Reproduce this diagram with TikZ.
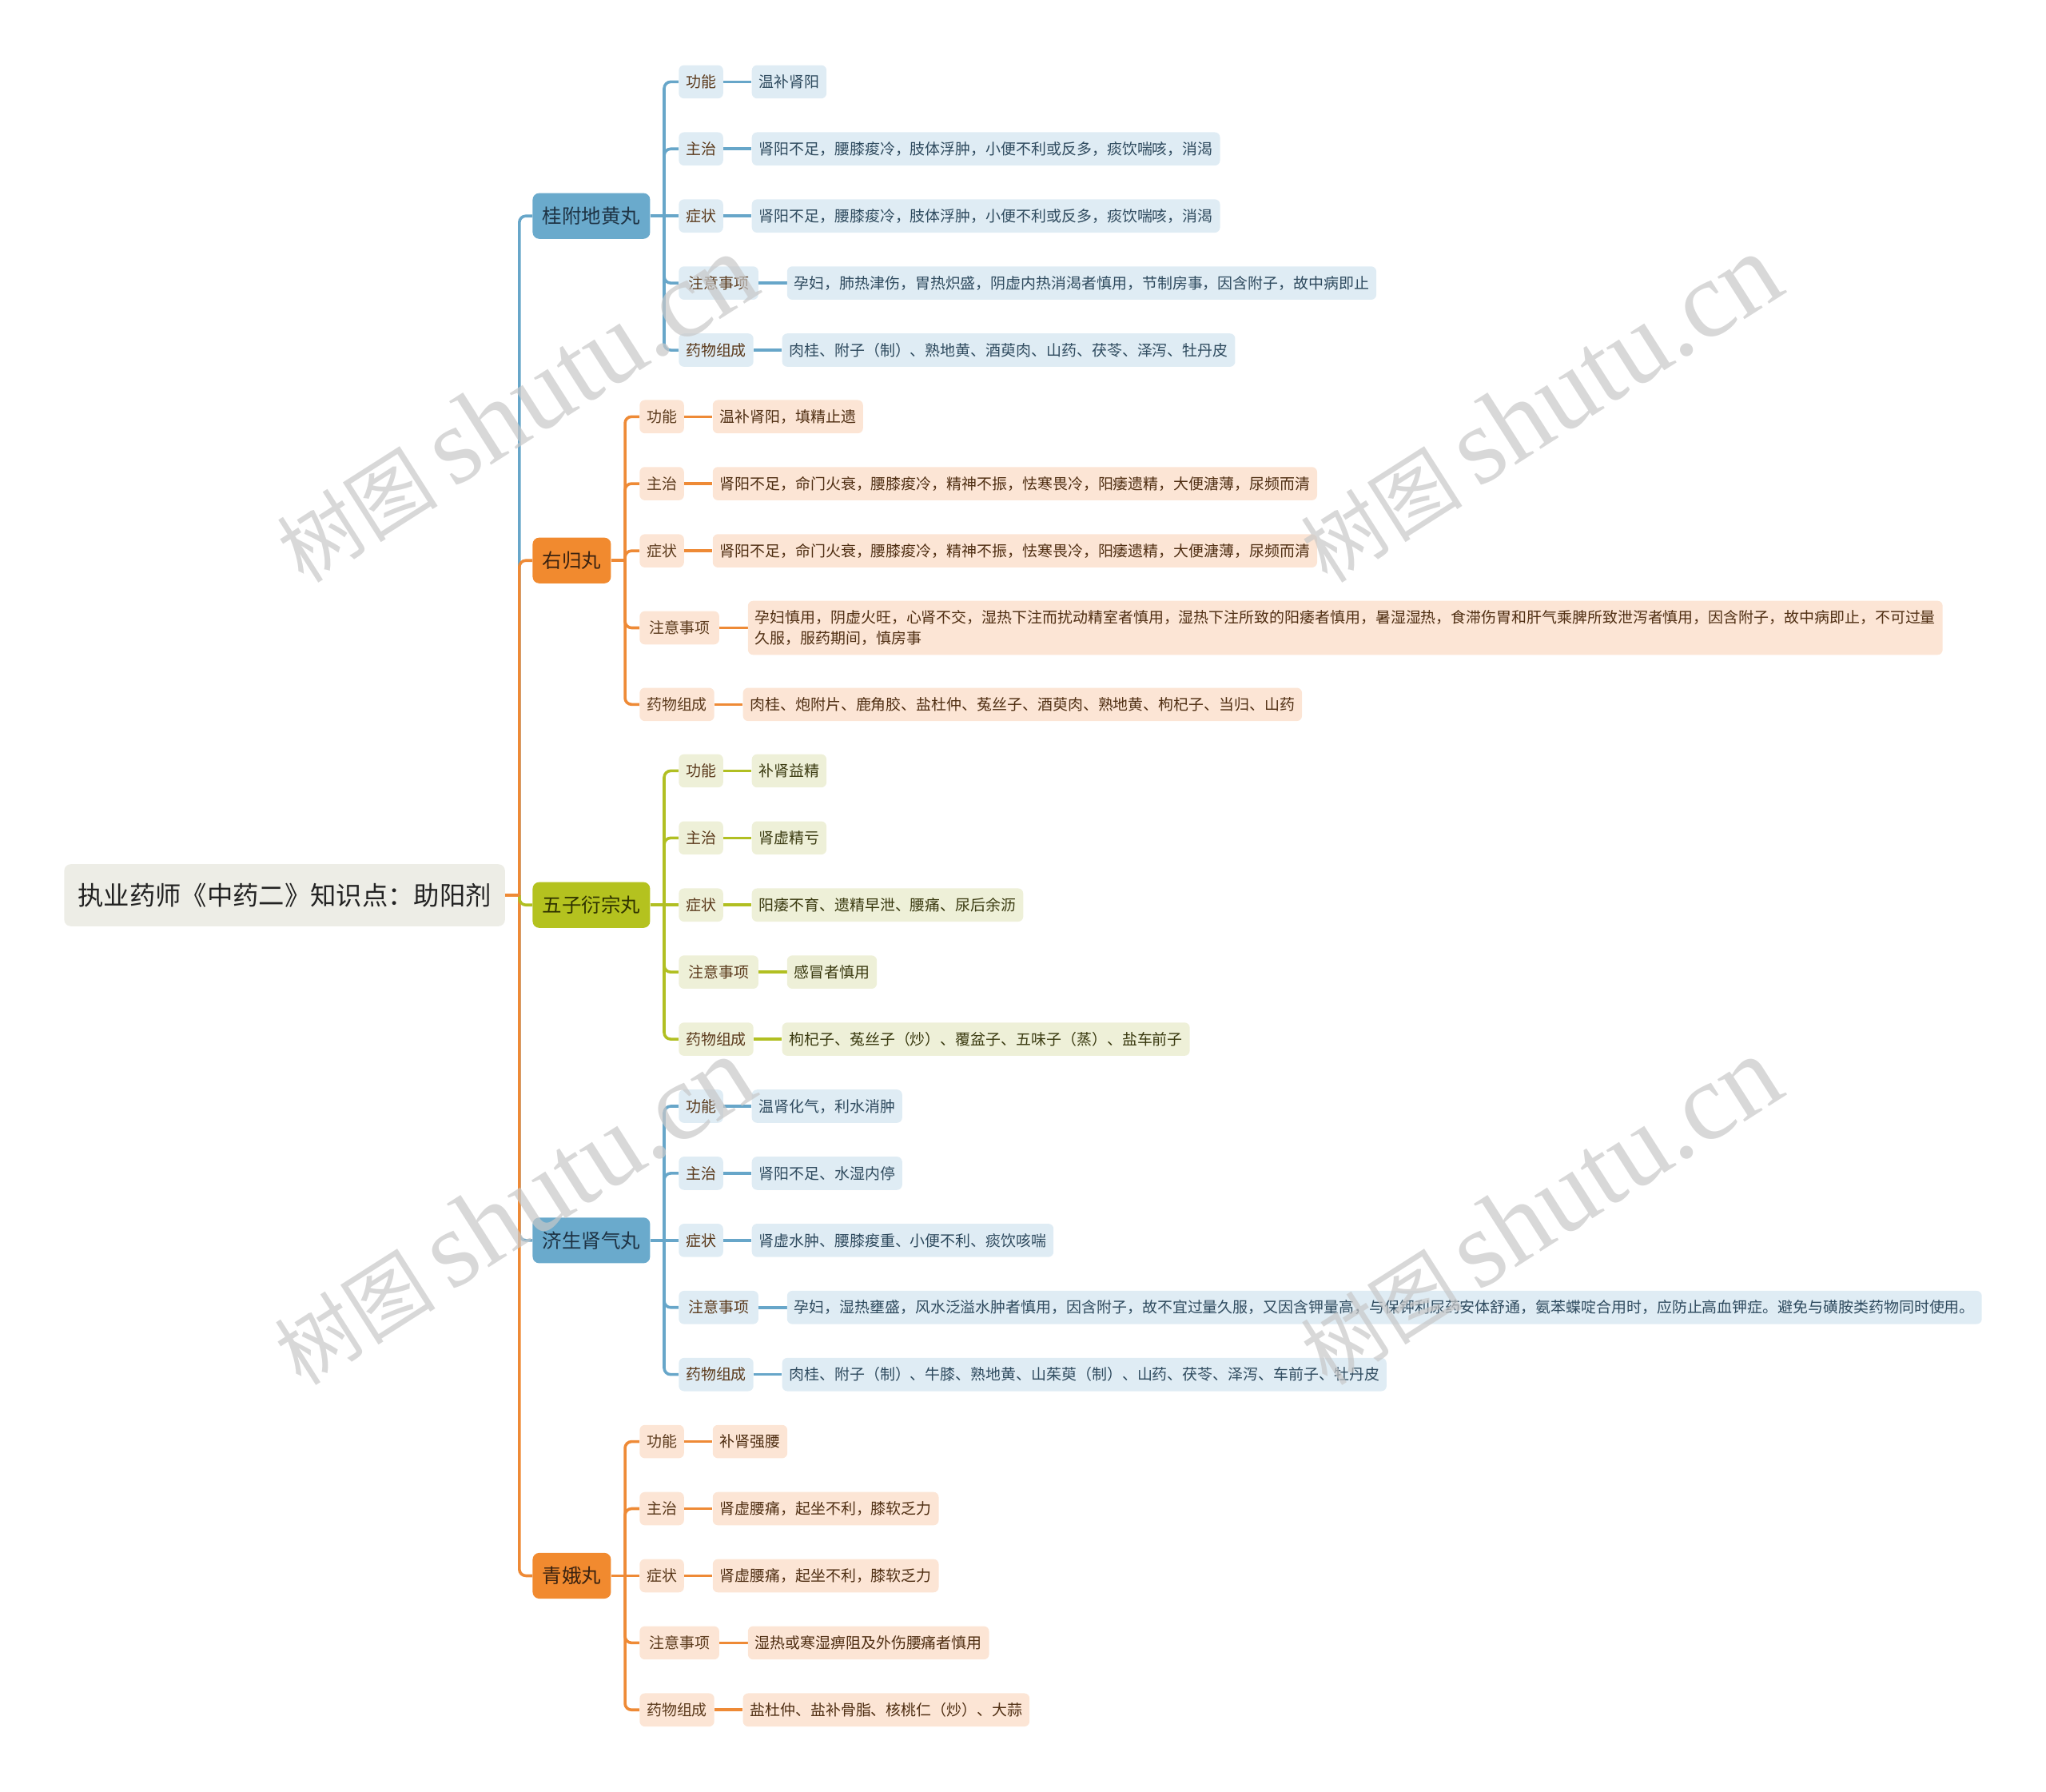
\documentclass[tikz,border=0pt]{standalone}
\usepackage{fontspec}
\setmainfont{Noto Sans CJK SC}
\newfontfamily\wmlat{Liberation Serif}
\usetikzlibrary{positioning,backgrounds}

\definecolor{bB}{HTML}{6AAACC}
\definecolor{bL}{HTML}{DFECF4}
\definecolor{bLine}{HTML}{67A6C9}
\definecolor{bT}{HTML}{1E3344}
\definecolor{bV}{HTML}{2E4A5E}
\definecolor{oB}{HTML}{F18A2F}
\definecolor{oL}{HTML}{FCE5D5}
\definecolor{oLine}{HTML}{EE8A36}
\definecolor{oT}{HTML}{3A2210}
\definecolor{oV}{HTML}{4F2E12}
\definecolor{gB}{HTML}{B4C21F}
\definecolor{gL}{HTML}{EEF0D8}
\definecolor{gLine}{HTML}{B1BF22}
\definecolor{gT}{HTML}{2F3300}
\definecolor{gV}{HTML}{3A3A10}
\definecolor{rootF}{HTML}{EDEDE6}
\definecolor{rootT}{HTML}{222222}
\definecolor{labT}{HTML}{5B3A1C}
\definecolor{wmC}{HTML}{C8C8C8}

\tikzset{
  rootbox/.style={fill=rootF, rounded corners=5pt, inner xsep=10.5pt, inner ysep=0pt,
    minimum height=47.5pt, font=\fontsize{19.8}{24}\selectfont, text=rootT,
    text height=17.4pt, text depth=2.4pt, anchor=west},
  brbox/.style={rounded corners=5pt, inner xsep=7.5pt, inner ysep=0pt, minimum height=35pt,
    font=\fontsize{15}{18}\selectfont, text height=13.2pt, text depth=1.8pt, anchor=west},
  smbox/.style={rounded corners=4pt, inner xsep=5.4pt, inner ysep=0pt, minimum height=25.5pt,
    font=\fontsize{11.6}{15.5}\selectfont, text height=10.2pt, text depth=1.4pt, anchor=west},
  twobox/.style={rounded corners=4pt, inner xsep=5.4pt, inner ysep=7pt, minimum height=41.4pt,
    align=left, font=\fontsize{11.6}{15.5}\selectfont, anchor=west},
  labb/.style={smbox, fill=bL, text=labT},
  labo/.style={smbox, fill=oL, text=labT},
  labg/.style={smbox, fill=gL, text=labT},
  wide/.style={minimum width=61pt},
  valb/.style={smbox, fill=bL, text=bV},
  valo/.style={smbox, fill=oL, text=oV},
  valg/.style={smbox, fill=gL, text=gV},
  conn/.style={line width=2.2pt, rounded corners=5pt},
  cb/.style={conn, draw=bLine},
  co/.style={conn, draw=oLine},
  cg/.style={conn, draw=gLine},
  wm/.style={text=wmC, opacity=0.7, rotate=32.5, inner sep=0pt},
}

\begin{document}
\begin{tikzpicture}[x=1pt,y=1pt]
\useasboundingbox (0,0) rectangle (1568,-1373);

% root
\node[rootbox] (root) at (49,-686) {执业药师《中药二》知识点：助阳剂};

% branches
\node[brbox, fill=bB, text=bT] (b1) at (408,-165.5) {桂附地黄丸};
\node[brbox, fill=oB, text=oT] (b2) at (408,-429.5) {右归丸};
\node[brbox, fill=gB, text=gT] (b3) at (408,-693.5) {五子衍宗丸};
\node[brbox, fill=bB, text=bT] (b4) at (408,-950.5) {济生肾气丸};
\node[brbox, fill=oB, text=oT] (b5) at (408,-1207.5) {青娥丸};

% branch 1
\node[labb] (l11) at (520,-62.7) {功能};
\node[labb] (l12) at (520,-114.1) {主治};
\node[labb] (l13) at (520,-165.5) {症状};
\node[labb, wide] (l14) at (520,-216.9) {注意事项};
\node[labb] (l15) at (520,-268.3) {药物组成};
\node[valb, right=21.6pt of l11] (v11) {温补肾阳};
\node[valb, right=21.6pt of l12] (v12) {肾阳不足，腰膝痠冷，肢体浮肿，小便不利或反多，痰饮喘咳，消渴};
\node[valb, right=21.6pt of l13] (v13) {肾阳不足，腰膝痠冷，肢体浮肿，小便不利或反多，痰饮喘咳，消渴};
\node[valb, right=21.6pt of l14] (v14) {孕妇，肺热津伤，胃热炽盛，阴虚内热消渴者慎用，节制房事，因含附子，故中病即止};
\node[valb, right=21.6pt of l15] (v15) {肉桂、附子（制）、熟地黄、酒萸肉、山药、茯苓、泽泻、牡丹皮};

% branch 2
\node[labo] (l21) at (490,-319.3) {功能};
\node[labo] (l22) at (490,-370.6) {主治};
\node[labo] (l23) at (490,-422.1) {症状};
\node[labo, wide] (l24) at (490,-481.1) {注意事项};
\node[labo] (l25) at (490,-539.8) {药物组成};
\node[valo, right=21.6pt of l21] (v21) {温补肾阳，填精止遗};
\node[valo, right=21.6pt of l22] (v22) {肾阳不足，命门火衰，腰膝痠冷，精神不振，怯寒畏冷，阳痿遗精，大便溏薄，尿频而清};
\node[valo, right=21.6pt of l23] (v23) {肾阳不足，命门火衰，腰膝痠冷，精神不振，怯寒畏冷，阳痿遗精，大便溏薄，尿频而清};
\node[twobox, fill=oL, text=oV, right=21.6pt of l24] (v24) {孕妇慎用，阴虚火旺，心肾不交，湿热下注而扰动精室者慎用，湿热下注所致的阳痿者慎用，暑湿湿热，食滞伤胃和肝气乘脾所致泄泻者慎用，因含附子，故中病即止，不可过量\\久服，服药期间，慎房事};
\node[valo, right=21.6pt of l25] (v25) {肉桂、炮附片、鹿角胶、盐杜仲、菟丝子、酒萸肉、熟地黄、枸杞子、当归、山药};

% branch 3
\node[labg] (l31) at (520,-590.7) {功能};
\node[labg] (l32) at (520,-642.1) {主治};
\node[labg] (l33) at (520,-693.5) {症状};
\node[labg, wide] (l34) at (520,-744.9) {注意事项};
\node[labg] (l35) at (520,-796.3) {药物组成};
\node[valg, right=21.6pt of l31] (v31) {补肾益精};
\node[valg, right=21.6pt of l32] (v32) {肾虚精亏};
\node[valg, right=21.6pt of l33] (v33) {阳痿不育、遗精早泄、腰痛、尿后余沥};
\node[valg, right=21.6pt of l34] (v34) {感冒者慎用};
\node[valg, right=21.6pt of l35] (v35) {枸杞子、菟丝子（炒）、覆盆子、五味子（蒸）、盐车前子};

% branch 4
\node[labb] (l41) at (520,-847.7) {功能};
\node[labb] (l42) at (520,-899.1) {主治};
\node[labb] (l43) at (520,-950.5) {症状};
\node[labb, wide] (l44) at (520,-1001.9) {注意事项};
\node[labb] (l45) at (520,-1053.3) {药物组成};
\node[valb, right=21.6pt of l41] (v41) {温肾化气，利水消肿};
\node[valb, right=21.6pt of l42] (v42) {肾阳不足、水湿内停};
\node[valb, right=21.6pt of l43] (v43) {肾虚水肿、腰膝痠重、小便不利、痰饮咳喘};
\node[valb, right=21.6pt of l44] (v44) {孕妇，湿热壅盛，风水泛溢水肿者慎用，因含附子，故不宜过量久服，又因含钾量高，与保钾利尿药安体舒通，氨苯蝶啶合用时，应防止高血钾症。避免与磺胺类药物同时使用。};
\node[valb, right=21.6pt of l45] (v45) {肉桂、附子（制）、牛膝、熟地黄、山茱萸（制）、山药、茯苓、泽泻、车前子、牡丹皮};

% branch 5
\node[labo] (l51) at (490,-1104.7) {功能};
\node[labo] (l52) at (490,-1156.1) {主治};
\node[labo] (l53) at (490,-1207.5) {症状};
\node[labo, wide] (l54) at (490,-1258.9) {注意事项};
\node[labo] (l55) at (490,-1310.3) {药物组成};
\node[valo, right=21.6pt of l51] (v51) {补肾强腰};
\node[valo, right=21.6pt of l52] (v52) {肾虚腰痛，起坐不利，膝软乏力};
\node[valo, right=21.6pt of l53] (v53) {肾虚腰痛，起坐不利，膝软乏力};
\node[valo, right=21.6pt of l54] (v54) {湿热或寒湿痹阻及外伤腰痛者慎用};
\node[valo, right=21.6pt of l55] (v55) {盐杜仲、盐补骨脂、核桃仁（炒）、大蒜};

% junction coordinates
\coordinate (j0) at (398,-686);
\coordinate (j1) at (509,-165.5);
\coordinate (j2) at (479,-429.5);
\coordinate (j3) at (509,-693.5);
\coordinate (j4) at (509,-950.5);
\coordinate (j5) at (479,-1207.5);

\begin{scope}[on background layer]
  \draw[cb] (j0) |- (b1.west);
  \draw[cb] (j0) |- (b4.west);
  \draw[co] (j0) |- (b2.west);
  \draw[co] (j0) |- (b5.west);
  \draw[cg] (j0) |- (b3.west);
  \draw[co] (root.east) -- (j0);

  \draw[cb] (b1.east) -- (j1);
  \draw[cb] (j1) |- (l11.west);
  \draw[cb] (j1) |- (l12.west);
  \draw[cb] (j1) -- (l13.west);
  \draw[cb] (j1) |- (l14.west);
  \draw[cb] (j1) |- (l15.west);
  \foreach \i in {1,...,5} {\draw[cb] (l1\i.east) -- (v1\i.west);}

  \draw[co] (b2.east) -- (j2);
  \draw[co] (j2) |- (l21.west);
  \draw[co] (j2) |- (l22.west);
  \draw[co] (j2) |- (l23.west);
  \draw[co] (j2) |- (l24.west);
  \draw[co] (j2) |- (l25.west);
  \foreach \i in {1,...,5} {\draw[co] (l2\i.east) -- (v2\i.west);}

  \draw[cg] (b3.east) -- (j3);
  \draw[cg] (j3) |- (l31.west);
  \draw[cg] (j3) |- (l32.west);
  \draw[cg] (j3) -- (l33.west);
  \draw[cg] (j3) |- (l34.west);
  \draw[cg] (j3) |- (l35.west);
  \foreach \i in {1,...,5} {\draw[cg] (l3\i.east) -- (v3\i.west);}

  \draw[cb] (b4.east) -- (j4);
  \draw[cb] (j4) |- (l41.west);
  \draw[cb] (j4) |- (l42.west);
  \draw[cb] (j4) -- (l43.west);
  \draw[cb] (j4) |- (l44.west);
  \draw[cb] (j4) |- (l45.west);
  \foreach \i in {1,...,5} {\draw[cb] (l4\i.east) -- (v4\i.west);}

  \draw[co] (b5.east) -- (j5);
  \draw[co] (j5) |- (l51.west);
  \draw[co] (j5) |- (l52.west);
  \draw[co] (j5) -- (l53.west);
  \draw[co] (j5) |- (l54.west);
  \draw[co] (j5) |- (l55.west);
  \foreach \i in {1,...,5} {\draw[co] (l5\i.east) -- (v5\i.west);}
\end{scope}

% watermarks
\node[wm] (w1) at (395,-313) {\fontsize{62}{70}\selectfont 树图\hspace{12pt}{\wmlat\fontsize{84}{90}\selectfont shutu.cn}};
\node[wm] (w2) at (1180,-313) {\fontsize{62}{70}\selectfont 树图\hspace{12pt}{\wmlat\fontsize{84}{90}\selectfont shutu.cn}};
\node[wm] (w3) at (393,-928) {\fontsize{62}{70}\selectfont 树图\hspace{12pt}{\wmlat\fontsize{84}{90}\selectfont shutu.cn}};
\node[wm] (w4) at (1180,-928) {\fontsize{62}{70}\selectfont 树图\hspace{12pt}{\wmlat\fontsize{84}{90}\selectfont shutu.cn}};
\end{tikzpicture}
\end{document}
